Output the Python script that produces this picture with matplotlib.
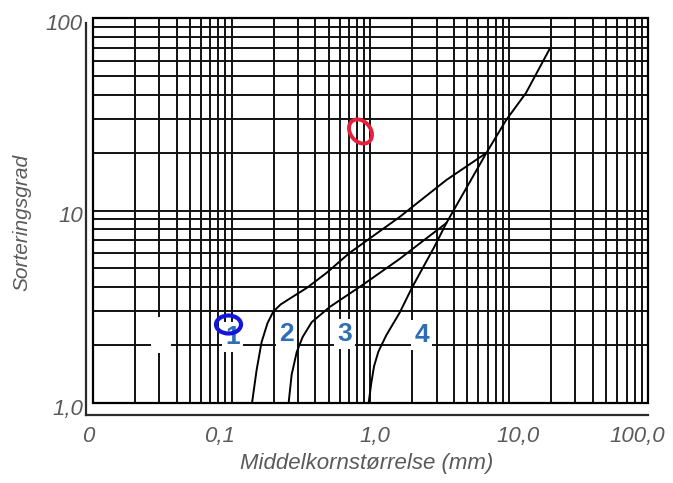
import matplotlib
matplotlib.use("Agg")
import matplotlib.pyplot as plt
import numpy as np
from matplotlib.ticker import FixedLocator, LogLocator, NullFormatter
from matplotlib.path import Path
from matplotlib.markers import MarkerStyle
from matplotlib.transforms import Affine2D, ScaledTranslation, blended_transform_factory
from matplotlib.patches import Rectangle

plt.rcParams["font.family"] = ["Liberation Sans", "DejaVu Sans"]

# ---- data ----
curve1_x = [0.14, 0.151, 0.164, 0.181, 0.199, 0.225, 0.261, 0.347, 0.482, 0.706, 1.62, 3.52, 6.84]
curve1_y = [1.0, 1.48, 2.07, 2.60, 2.98, 3.25, 3.48, 3.96, 4.74, 6.02, 9.25, 14.4, 19.9]

curve2_x = [0.257, 0.270, 0.294, 0.324, 0.377, 0.507, 0.875, 1.62, 2.44, 3.52]
curve2_y = [1.0, 1.40, 1.84, 2.20, 2.63, 3.15, 4.10, 5.60, 7.03, 8.6]

curve3_x = [0.97, 1.01, 1.06, 1.14, 1.30, 1.62, 2.0, 2.88, 3.52]
curve3_y = [1.0, 1.25, 1.55, 1.85, 2.25, 2.94, 4.0, 6.46, 8.6]

trunk_x = [3.52, 6.84, 9.5, 13.2, 19.7]
trunk_y = [8.6, 19.9, 29.5, 40.8, 69.8]

label_text = ["1", "2", "3", "4"]
label_x = [0.102, 0.249, 0.65, 2.33]
label_y = [2.2, 2.28, 2.28, 2.25]
blank_x = [0.031]
blank_y = [2.25]

xtick_vals = [0.01, 0.1, 1, 10, 100]
xtick_labels = ["0", "0,1", "1,0", "10,0", "100,0"]
ytick_vals = [1, 10, 100]
ytick_labels = ["1,0", "10", "100"]

blue_mark = (0.0936, 2.57)
red_mark = (0.834, 25.9)

# label nudges in pixels (layout only)
xtick_dx = [-5, -12, 4, 9, -11]

# ---- figure ----
fig = plt.figure(figsize=(6.73, 4.83), dpi=100)
W, H = 673, 483
ax = fig.add_axes([93 / W, 1 - 403 / H, (648 - 93) / W, (403 - 18) / H])
ax.set_xscale("log")
ax.set_yscale("log")
ax.set_xlim(0.01, 100)
ax.set_ylim(1, 100)

ax.xaxis.set_major_locator(FixedLocator(xtick_vals))
ax.xaxis.set_minor_locator(LogLocator(base=10, subs=np.arange(2, 10)))
ax.yaxis.set_major_locator(FixedLocator(ytick_vals))
ax.yaxis.set_minor_locator(LogLocator(base=10, subs=np.arange(2, 10)))
ax.xaxis.set_major_formatter(NullFormatter())
ax.xaxis.set_minor_formatter(NullFormatter())
ax.yaxis.set_major_formatter(NullFormatter())
ax.yaxis.set_minor_formatter(NullFormatter())
ax.tick_params(which="both", length=0)

ax.grid(True, which="both", color="#111111", lw=1.4)
ax.set_axisbelow(True)

gray = "#5a5a5a"
# tick labels as text
tx = blended_transform_factory(ax.transData, ax.transAxes)
for v, t, dx in zip(xtick_vals, xtick_labels, xtick_dx):
    tr = tx + ScaledTranslation(dx / 100, 0, fig.dpi_scale_trans)
    ax.text(v, -0.088, t, transform=tr, ha="center", va="center", fontsize=16,
            style="italic", color=gray, clip_on=False)
ty = blended_transform_factory(ax.transAxes, ax.transData) + ScaledTranslation(0, -0.06, fig.dpi_scale_trans)
for v, t in zip(ytick_vals, ytick_labels):
    ax.text(-0.018, v, t, transform=ty, ha="right", va="center", fontsize=16,
            style="italic", color=gray, clip_on=False)

# spines
for s in ["top", "right"]:
    ax.spines[s].set_visible(False)
ax.spines["left"].set_position(("outward", 5.0))
ax.spines["bottom"].set_position(("outward", 8.6))
for s in ["left", "bottom"]:
    ax.spines[s].set_color("#2a2a2a")
    ax.spines[s].set_linewidth(1.6)
ax.spines["left"].set_bounds(0.866, 94.4)
ax.spines["bottom"].set_bounds(0.0089, 100)

ax.add_patch(Rectangle((0, 0), 1, 1, transform=ax.transAxes, fill=False,
                       ec="black", lw=1.6, clip_on=False, zorder=3))

# curves
for xs, ys in [(curve1_x, curve1_y), (curve2_x, curve2_y), (curve3_x, curve3_y), (trunk_x, trunk_y)]:
    ax.plot(xs, ys, color="black", lw=1.4, zorder=4, solid_capstyle="round", solid_joinstyle="round")

# labels
for t, x, y in zip(label_text, label_x, label_y):
    ax.text(x, y, t, ha="center", va="center", fontsize=19, fontweight="bold",
            color="#2f6db5", zorder=5,
            bbox=dict(boxstyle="square,pad=0.12", fc="white", ec="none"))
for x, y in zip(blank_x, blank_y):
    ax.text(x, y, " ", ha="center", va="center", fontsize=18, zorder=5,
            bbox=dict(boxstyle="square,pad=0.25", fc="white", ec="none"))

# hand-drawn circles
ell = Path.unit_circle()
blue_marker = MarkerStyle(ell.transformed(Affine2D().scale(1.0, 0.72)))
red_marker = MarkerStyle(ell.transformed(Affine2D().scale(1.0, 0.75).rotate_deg(-50)))
ax.plot([blue_mark[0]], [blue_mark[1]], marker=blue_marker, ms=18, mfc="none",
        mec="#1414dc", mew=3.0, zorder=6, ls="none")
ax.plot([red_mark[0]], [red_mark[1]], marker=red_marker, ms=18, mfc="none",
        mec="#e5203c", mew=2.8, zorder=6, ls="none")

# axis titles
fig.text(367 / W, 1 - 464 / H, "Middelkornstørrelse (mm)", ha="center", va="center",
         style="italic", size=16, color=gray)
fig.text(22 / W, 1 - 222 / H, "Sorteringsgrad", ha="center", va="center", rotation=90,
         style="italic", size=15, color=gray)

fig.savefig("out.png", dpi=100)
